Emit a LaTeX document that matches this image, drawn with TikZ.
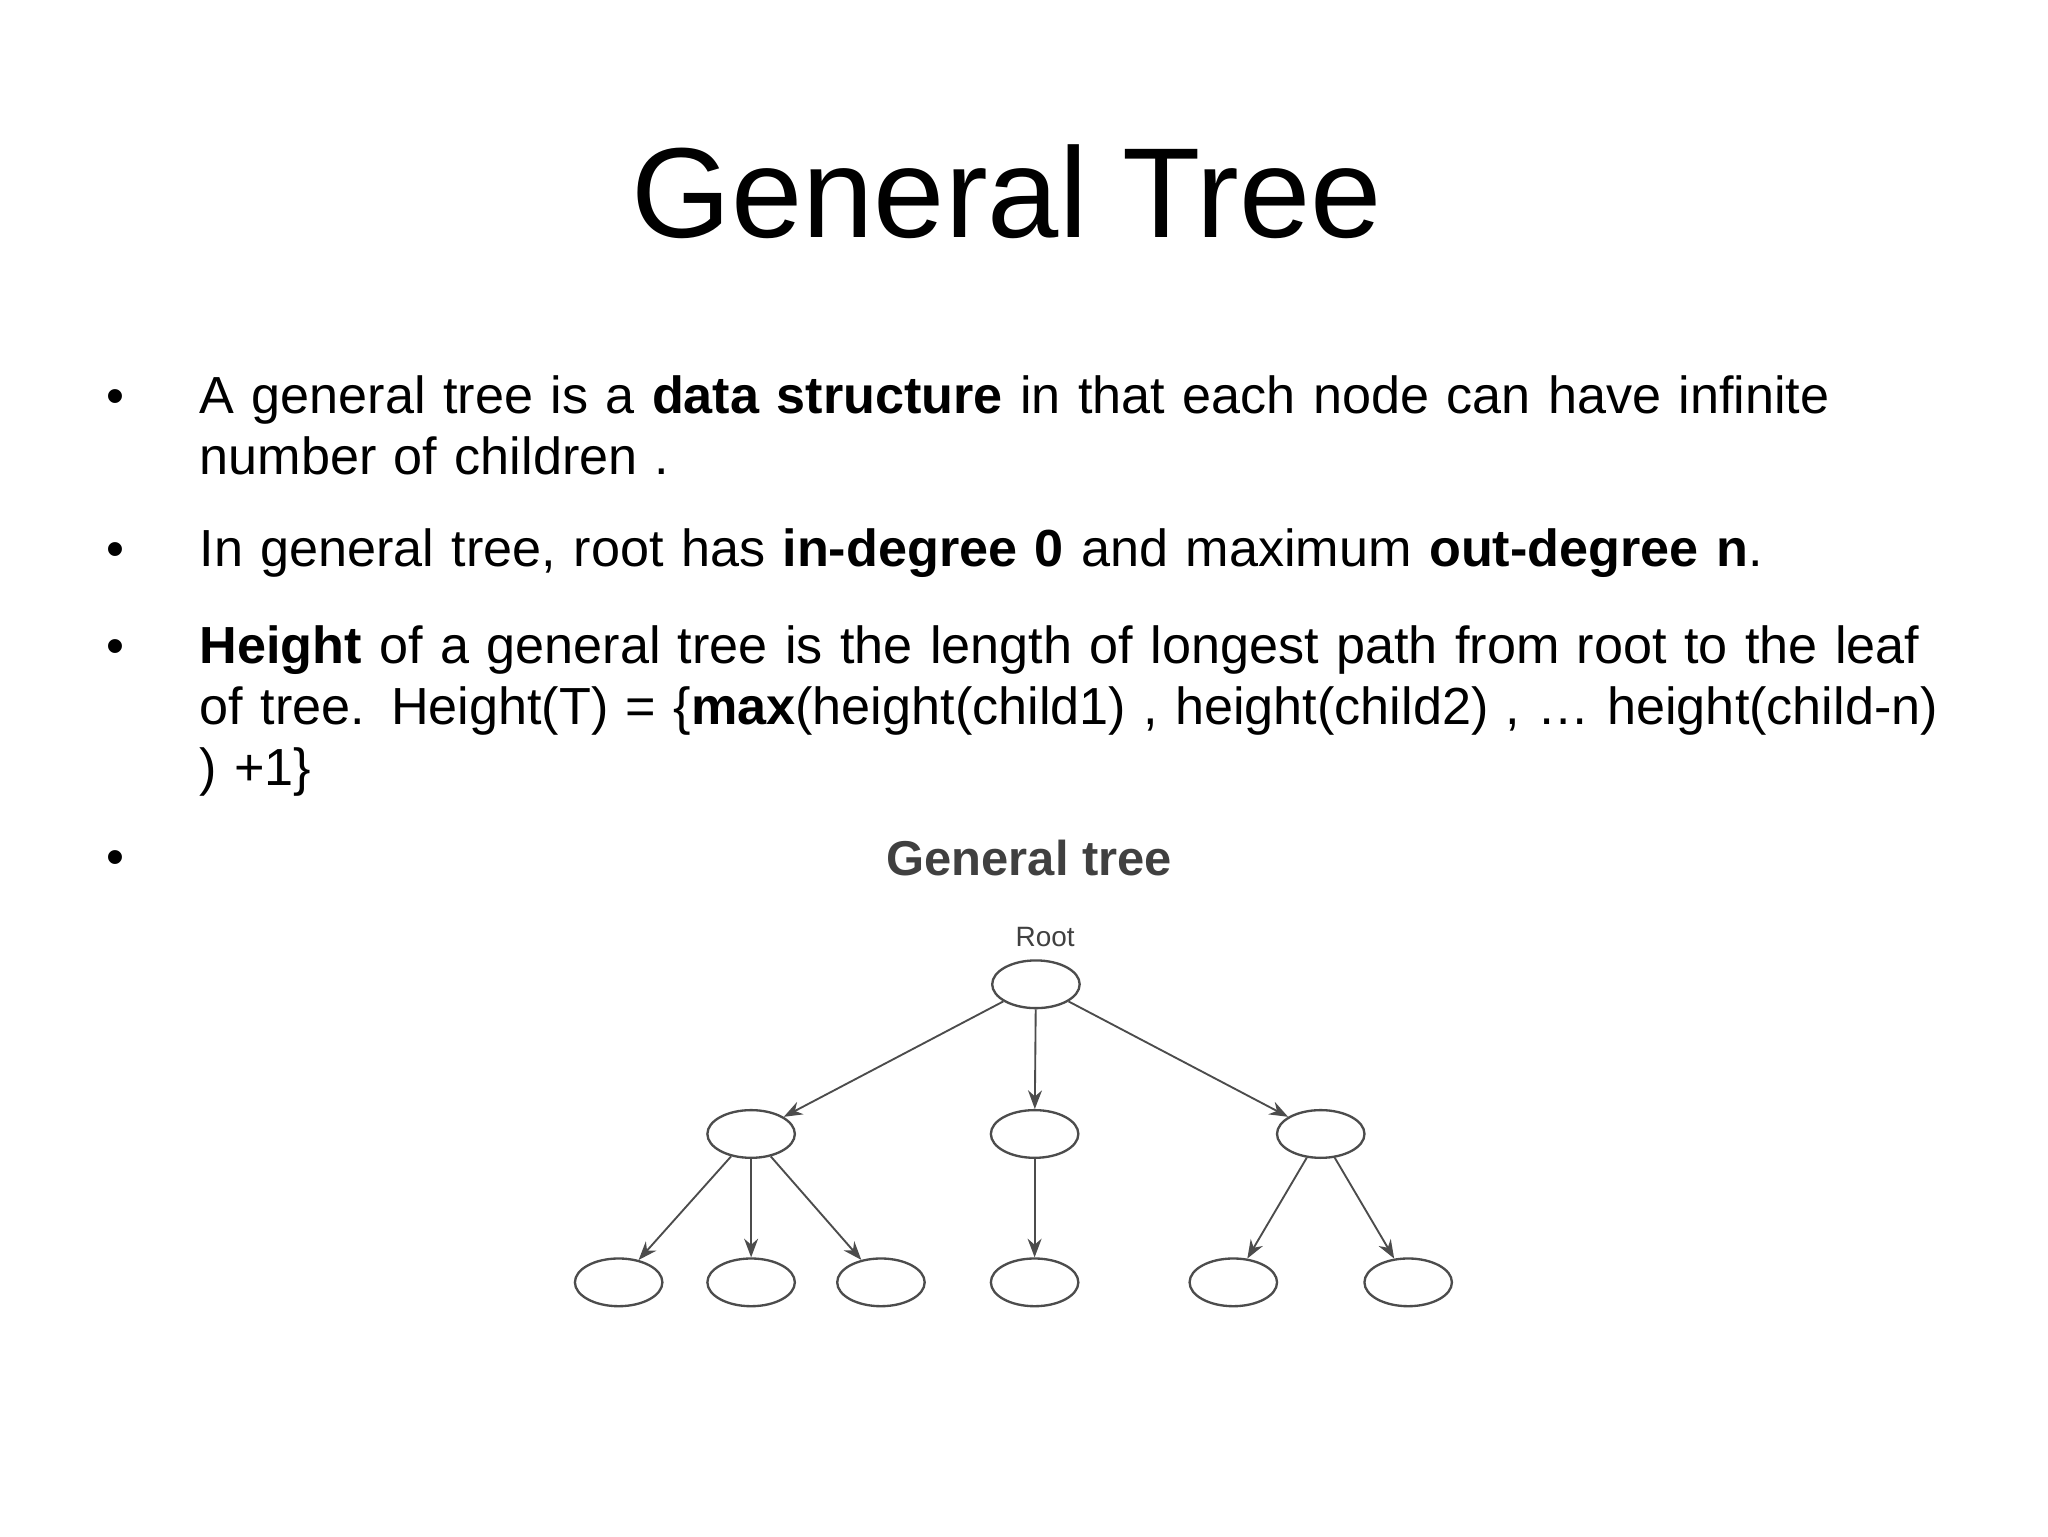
\documentclass[tikz,border=0pt]{standalone}
\usepackage{fontspec}
\setmainfont{Liberation Sans}
\usetikzlibrary{arrows.meta,shapes.geometric}
\begin{document}
\begin{tikzpicture}[x=0.01cm,y=-0.01cm,
  tn/.style={draw=black!70,ellipse,minimum width=0.66cm,minimum height=0.36cm,inner sep=0pt,line width=0.5pt},
  ar/.style={draw=black!70,line width=0.4pt,-{Stealth[length=4pt,width=3pt]}},
  bul/.style={anchor=base,font=\fontsize{11}{13}\selectfont},
  txt/.style={anchor=base west,align=left,font=\fontsize{11.2}{13.1}\selectfont,text width=13.2cm,inner sep=0pt}]
\useasboundingbox (0,0) rectangle (1546,1160);
\fill[white] (0,0) rectangle (1546,1160);
\node[font=\fontsize{27.5}{30}\selectfont] (title) at (760,145) {General Tree};
\node[bul] (b1) at (87,312) {•};
\node[txt] (t1) at (150,312) {A general tree is a \textbf{data structure} in that each node can have infinite number of children .};
\node[bul] (b2) at (87,428) {•};
\node[txt] (t2) at (150,428) {In general tree, root has \textbf{in-degree 0} and maximum \textbf{out-degree n}.};
\node[bul] (b3) at (87,501) {•};
\node[txt] (t3) at (150,501) {\textbf{Height} of a general tree is the length of longest path from root to the leaf of tree. Height(T) = \{\textbf{max}(height(child1) , height(child2) , … height(child-n) ) +1\}};
\node[bul] (b4) at (87,660) {•};
\node[font=\fontsize{10.5}{12}\selectfont\bfseries,text=black!75] (sub) at (777,648) {General tree};
\node[font=\fontsize{6}{7}\selectfont,text=black!75] (rl) at (789,707) {Root};
\node[tn] (r) at (782,743) {};
\node[tn] (a) at (567,856) {};
\node[tn] (b) at (781,856) {};
\node[tn] (c) at (997,856) {};
\node[tn] (a1) at (467,968) {};
\node[tn] (a2) at (567,968) {};
\node[tn] (a3) at (665,968) {};
\node[tn] (b1n) at (781,968) {};
\node[tn] (c1) at (931,968) {};
\node[tn] (c2) at (1063,968) {};
\draw[ar] (r) -- (a); \draw[ar] (r) -- (b); \draw[ar] (r) -- (c);
\draw[ar] (a) -- (a1); \draw[ar] (a) -- (a2); \draw[ar] (a) -- (a3);
\draw[ar] (b) -- (b1n);
\draw[ar] (c) -- (c1); \draw[ar] (c) -- (c2);
\end{tikzpicture}
\end{document}
